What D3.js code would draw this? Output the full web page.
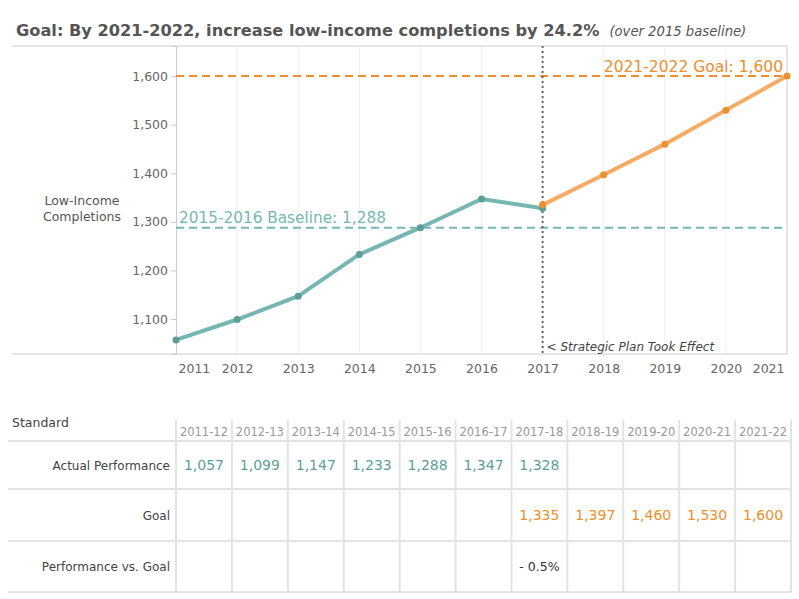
<!DOCTYPE html>
<html>
<head>
<meta charset="utf-8">
<script src="https://cdn.jsdelivr.net/npm/d3@7"></script>
<style>
  body { margin: 0; background: #fff; }
  svg text { font-family: "DejaVu Sans", Verdana, sans-serif; }
</style>
</head>
<body>
<div id="chart"></div>
<script>
// data
var years = [2011, 2012, 2013, 2014, 2015, 2016, 2017, 2018, 2019, 2020, 2021];
var seasons = ["2011-12", "2012-13", "2013-14", "2014-15", "2015-16", "2016-17",
    "2017-18", "2018-19", "2019-20", "2020-21", "2021-22"];
var actualYears = [2011, 2012, 2013, 2014, 2015, 2016, 2017];
var actualValues = [1057, 1099, 1147, 1233, 1288, 1347, 1328];
var goalYears = [2017, 2018, 2019, 2020, 2021];
var goalValues = [1335, 1397, 1460, 1530, 1600];
var perfVsGoal = ["", "", "", "", "", "", "- 0.5%", "", "", "", ""];
var yTicks = [1100, 1200, 1300, 1400, 1500, 1600];
var baseline = 1288;
var goalTarget = 1600;
var planYear = 2017;

var teal = "#76b7b2", tealDark = "#5b9f97", orange = "#f28e2b", orangeLine = "#f7ac63";

var vW = 799, vH = 599;
var plot = { left: 176, right: 787, top: 46, bottom: 354 };

var svg = d3.select("#chart").append("svg")
    .attr("width", vW).attr("height", vH);

// title
var title = svg.append("text").attr("x", 16).attr("y", 36)
    .attr("font-size", 16.2).attr("font-weight", "bold").attr("fill", "#555");
title.append("tspan").text("Goal: By 2021-2022, increase low-income completions by 24.2%");
title.append("tspan").attr("dx", 10).attr("font-size", 13.2).attr("font-weight", "normal")
    .attr("font-style", "italic").text("(over 2015 baseline)");

var x = d3.scaleLinear().domain([2011, 2021]).range([plot.left, plot.right]);
var y = d3.scaleLinear().domain([1028, 1662]).range([plot.bottom, plot.top]);

// vertical grid
svg.append("g").selectAll("line").data(years.slice(1, -1)).enter().append("line")
    .attr("x1", function (d) { return x(d); }).attr("x2", function (d) { return x(d); })
    .attr("y1", plot.top).attr("y2", plot.bottom)
    .attr("stroke", "#efefef");

// frame
svg.append("line").attr("x1", 12).attr("x2", plot.right).attr("y1", plot.top).attr("y2", plot.top).attr("stroke", "#ccc");
svg.append("line").attr("x1", 12).attr("x2", plot.right).attr("y1", plot.bottom).attr("y2", plot.bottom).attr("stroke", "#ccc");
svg.append("line").attr("x1", plot.right).attr("x2", plot.right).attr("y1", plot.top).attr("y2", plot.bottom).attr("stroke", "#ccc");

// y axis
var yAxis = svg.append("g").attr("transform", "translate(" + plot.left + ",0)")
    .call(d3.axisLeft(y).tickValues(yTicks).tickSize(5).tickPadding(3).tickFormat(d3.format(",")));
yAxis.select(".domain").attr("stroke", "#ccc");
yAxis.selectAll(".tick line").attr("stroke", "#ccc");
yAxis.selectAll(".tick text").attr("fill", "#666").attr("font-size", 12.5)
    .style("font-family", "DejaVu Sans, Verdana, sans-serif");

// x axis
var xAxis = svg.append("g").attr("transform", "translate(0," + plot.bottom + ")")
    .call(d3.axisBottom(x).tickValues(years).tickSize(0).tickPadding(10).tickFormat(d3.format("d")));
xAxis.select(".domain").remove();
xAxis.selectAll(".tick text").attr("fill", "#666").attr("font-size", 12.5)
    .style("font-family", "DejaVu Sans, Verdana, sans-serif")
    .attr("text-anchor", function (d) { return d === 2011 ? "start" : d === 2021 ? "end" : "middle"; })
    .attr("dx", function (d) { return d === 2011 ? 2 : d === 2021 ? -3 : 0; });

// y axis title
svg.append("text").attr("x", 82).attr("y", 205).attr("text-anchor", "middle")
    .attr("font-size", 12.5).attr("fill", "#555")
    .selectAll("tspan").data(["Low-Income", "Completions"]).enter().append("tspan")
    .attr("x", 82).attr("dy", function (d, i) { return i ? 16 : 0; }).text(function (d) { return d; });

// reference lines
svg.append("line").attr("x1", plot.left).attr("x2", plot.right)
    .attr("y1", y(baseline)).attr("y2", y(baseline))
    .attr("stroke", teal).attr("stroke-width", 2).attr("stroke-dasharray", "8,5");
svg.append("text").attr("x", plot.left + 3).attr("y", y(baseline) - 5)
    .attr("font-size", 15.3).attr("fill", teal).text("2015-2016 Baseline: " + d3.format(",")(baseline));
svg.append("line").attr("x1", plot.left).attr("x2", plot.right)
    .attr("y1", y(goalTarget)).attr("y2", y(goalTarget))
    .attr("stroke", orange).attr("stroke-width", 2).attr("stroke-dasharray", "8,5");
svg.append("text").attr("x", plot.right - 4).attr("y", y(goalTarget) - 4).attr("text-anchor", "end")
    .attr("font-size", 15.5).attr("fill", orange).text("2021-2022 Goal: " + d3.format(",")(goalTarget));

// plan line
svg.append("line").attr("x1", x(planYear)).attr("x2", x(planYear))
    .attr("y1", plot.top).attr("y2", plot.bottom)
    .attr("stroke", "#666").attr("stroke-width", 2).attr("stroke-dasharray", "2,3");
svg.append("text").attr("x", x(planYear) + 4).attr("y", plot.bottom - 3)
    .attr("font-size", 12).attr("font-style", "italic").attr("fill", "#444")
    .text("< Strategic Plan Took Effect");

// series
var line = d3.line().x(function (d) { return x(d[0]); }).y(function (d) { return y(d[1]); });
var actual = d3.zip(actualYears, actualValues);
var goal = d3.zip(goalYears, goalValues);

svg.append("path").datum(actual).attr("d", line).attr("fill", "none")
    .attr("stroke", teal).attr("stroke-width", 4).attr("stroke-linejoin", "round");
svg.append("path").datum(goal).attr("d", line).attr("fill", "none")
    .attr("stroke", orangeLine).attr("stroke-width", 4).attr("stroke-linejoin", "round");
svg.append("g").selectAll("circle").data(actual).enter().append("circle")
    .attr("cx", function (d) { return x(d[0]); }).attr("cy", function (d) { return y(d[1]); })
    .attr("r", 3.5).attr("fill", tealDark);
svg.append("g").selectAll("circle").data(goal).enter().append("circle")
    .attr("cx", function (d) { return x(d[0]); }).attr("cy", function (d) { return y(d[1]); })
    .attr("r", 3.5).attr("fill", orange);

// table
var tLeft = 176, tRight = 791;
var col = d3.scaleBand().domain(seasons).range([tLeft, tRight]);
var rowLines = [441, 489, 541, 592];
var rows = [
    { label: "Actual Performance", cy: 465, color: tealDark, values: seasons.map(function (s, i) { return i < actualValues.length ? d3.format(",")(actualValues[i]) : ""; }) },
    { label: "Goal", cy: 515, color: orange, values: seasons.map(function (s, i) { var k = goalYears.indexOf(years[i]); return k >= 0 ? d3.format(",")(goalValues[k]) : ""; }) },
    { label: "Performance vs. Goal", cy: 566, color: "#333", values: perfVsGoal }
];

var table = svg.append("g");
table.append("text").attr("x", 12).attr("y", 427).attr("font-size", 12.5).attr("fill", "#444").text("Standard");

// column separators
table.selectAll(".vsep").data(seasons.concat(["end"])).enter().append("line")
    .attr("x1", function (d, i) { return tLeft + i * col.bandwidth(); })
    .attr("x2", function (d, i) { return tLeft + i * col.bandwidth(); })
    .attr("y1", 420).attr("y2", rowLines[3])
    .attr("stroke", "#e3e3e3").attr("stroke-width", 2);
table.selectAll(".hsep").data(rowLines).enter().append("line")
    .attr("x1", 8).attr("x2", tRight)
    .attr("y1", function (d) { return d; }).attr("y2", function (d) { return d; })
    .attr("stroke", function (d, i) { return i === 3 ? "#ccc" : "#e3e3e3"; })
    .attr("stroke-width", function (d, i) { return i === 3 ? 1 : 2; });

table.selectAll(".colhead").data(seasons).enter().append("text")
    .attr("x", function (d) { return col(d) + col.bandwidth() / 2; }).attr("y", 436)
    .attr("text-anchor", "middle").attr("font-size", 11.5).attr("fill", "#999")
    .text(function (d) { return d; });

rows.forEach(function (r) {
    table.append("text").attr("x", 170).attr("y", r.cy + 5).attr("text-anchor", "end")
        .attr("font-size", 12).attr("fill", "#444").text(r.label);
    table.append("g").selectAll("text").data(r.values).enter().append("text")
        .attr("x", function (d, i) { return col(seasons[i]) + col.bandwidth() / 2; })
        .attr("y", r.cy + 5).attr("text-anchor", "middle")
        .attr("font-size", r.color === "#333" ? 12.5 : 14).attr("fill", r.color)
        .text(function (d) { return d; });
});
</script>
</body>
</html>
